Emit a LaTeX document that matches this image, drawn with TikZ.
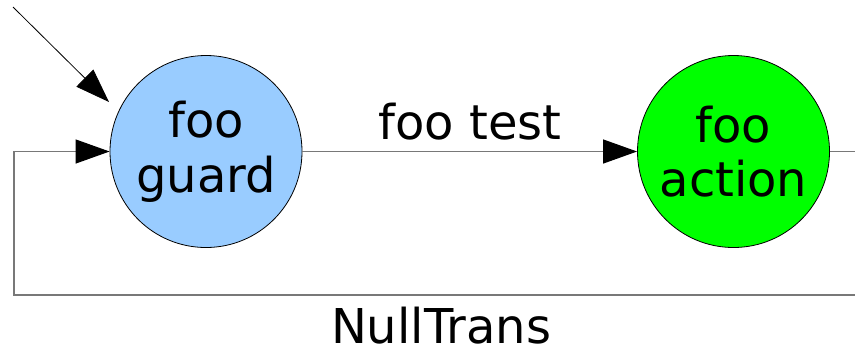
\documentclass[tikz,border=0pt]{standalone}
\usepackage{fontspec}
\setmainfont{DejaVu Sans}
\usetikzlibrary{arrows.meta}
\definecolor{guardblue}{RGB}{153,204,255}
\definecolor{actiongreen}{RGB}{0,255,0}
\definecolor{linegray}{RGB}{120,120,120}
\tikzset{
  state/.style={circle, draw=black, line width=0.6pt, inner sep=0pt, minimum size=144pt, align=center, font=\fontsize{36}{41}\selectfont},
  flow/.style={draw=linegray, line width=0.9pt, -{Triangle[length=25.5pt,width=18pt,color=black]}},
  lbl/.style={anchor=base, inner sep=0pt, font=\fontsize{36}{41}\selectfont}
}
\begin{document}
\begin{tikzpicture}[x=0.75pt,y=0.75pt,yscale=-1,xscale=1]
\clip (0,0) rectangle (855,355);

% States
\node[state, fill=guardblue] (guard) at (206,151.5) {foo\\guard};
\node[state, fill=actiongreen] (action) at (733.5,151.5) {foo\\action};

% Initial arrow
\coordinate (initstart) at (13,7);
\coordinate (initend) at (109,102);
\draw [line width=0.6pt, -{Triangle[length=25.5pt,width=18pt]}] (initstart) -- (initend);

% Transition foo test
\draw [flow] (guard) -- (action);
\node[lbl] (footest) at (470,139) {foo test};

% Loop back
\draw [flow] (action.east) -- ++(60,0) |- (14,295) |- (guard.west);
\node[lbl] (nulltrans) at (441,343) {NullTrans};

\end{tikzpicture}
\end{document}
